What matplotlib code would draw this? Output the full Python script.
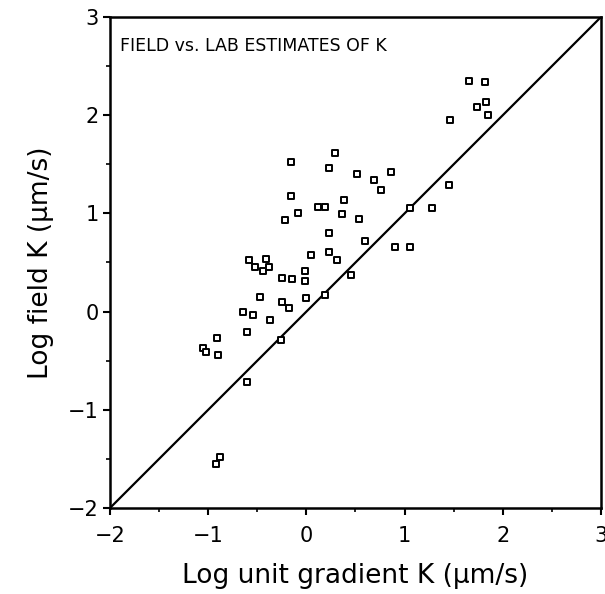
import matplotlib.pyplot as plt
from matplotlib.ticker import MultipleLocator

# log unit gradient K (lab) vs log field K, both in um/s
lab_k = [
    1.66, 1.82, 1.83, 1.74, 1.85, 1.46,
    0.29, -0.16, 0.23, 0.52, 0.86, 0.69, 0.76, 1.45,
    -0.16, 0.38, 0.12, 0.19, -0.09, -0.22, 0.36, 0.54, 1.05, 1.28,
    0.23, 0.60, 0.90, 1.06,
    -0.58, -0.41, -0.52, -0.44, -0.38, 0.05, 0.23, 0.31,
    -0.25, -0.15, -0.01, -0.01, 0.45,
    -0.47, -0.25, -0.18, 0.00, 0.19,
    -0.65, -0.54, -0.37, -0.60, -0.26,
    -0.91, -1.05, -1.02, -0.90, -0.60, -0.88, -0.92,
]
field_k = [
    2.35, 2.34, 2.13, 2.08, 2.00, 1.95,
    1.62, 1.52, 1.46, 1.40, 1.42, 1.34, 1.24, 1.29,
    1.18, 1.14, 1.06, 1.07, 1.00, 0.93, 0.99, 0.94, 1.05, 1.05,
    0.80, 0.72, 0.66, 0.66,
    0.53, 0.54, 0.45, 0.41, 0.45, 0.58, 0.61, 0.53,
    0.34, 0.33, 0.41, 0.31, 0.37,
    0.15, 0.10, 0.04, 0.14, 0.17,
    0.00, -0.03, -0.09, -0.21, -0.29,
    -0.27, -0.37, -0.41, -0.44, -0.72, -1.48, -1.55,
]
one_to_one = [-2, 3]
ticks = [-2, -1, 0, 1, 2, 3]

fig = plt.figure(figsize=(6.05, 5.94), dpi=100)
ax = fig.add_axes([0.1818, 0.1448, 0.8116, 0.8266])

ax.plot(one_to_one, one_to_one, color="black", lw=1.6)
ax.scatter(lab_k, field_k, marker="s", s=22, facecolors="white",
           edgecolors="black", linewidths=1.4, zorder=3)

ax.set_xlim(-2, 3)
ax.set_ylim(-2, 3)
ax.set_xticks(ticks)
ax.set_yticks(ticks)
ax.xaxis.set_minor_locator(MultipleLocator(0.5))
ax.yaxis.set_minor_locator(MultipleLocator(0.5))
ax.tick_params(which="major", direction="out", length=5, width=1.5, labelsize=15, pad=3)
ax.tick_params(axis="x", which="major", pad=8)
ax.tick_params(which="minor", direction="out", length=3, width=1.2)
for s in ax.spines.values():
    s.set_linewidth(1.8)

ax.set_xlabel("Log unit gradient K (\u03bcm/s)", fontsize=19, labelpad=12)
ax.set_ylabel("Log field K (\u03bcm/s)", fontsize=19, labelpad=10)
ax.text(0.02, 0.94, "FIELD vs. LAB ESTIMATES OF K", transform=ax.transAxes,
        fontsize=12.5, va="center", ha="left")

fig.savefig("out.png", dpi=100)
